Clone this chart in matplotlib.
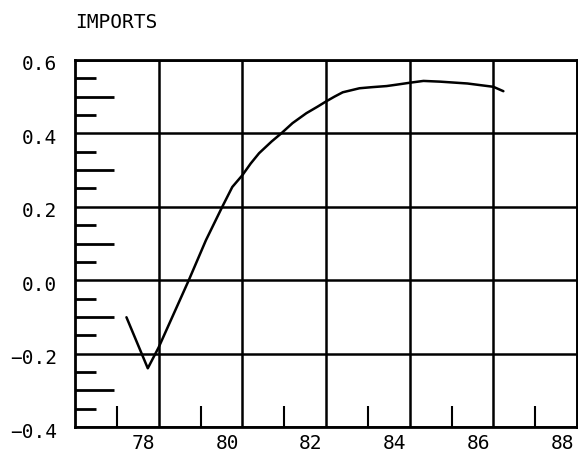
import matplotlib
matplotlib.use("Agg")
import matplotlib.pyplot as plt
from matplotlib.ticker import FixedLocator, MultipleLocator
from matplotlib.transforms import ScaledTranslation

# Data
years = [77.23, 77.74, 78.0, 78.72, 79.13, 79.52, 79.76, 80.0, 80.2, 80.4,
         80.7, 80.93, 81.2, 81.53, 81.8, 82.0, 82.2, 82.4, 82.8, 83.1, 83.45,
         83.7, 84.0, 84.33, 84.73, 85.38, 86.0, 86.24]
imports = [-0.101, -0.24, -0.183, 0.0, 0.109, 0.2, 0.254, 0.286, 0.318, 0.346,
           0.378, 0.4, 0.428, 0.455, 0.473, 0.487, 0.500, 0.512, 0.523, 0.526,
           0.529, 0.533, 0.538, 0.543, 0.541, 0.536, 0.527, 0.515]
x_ticks = [78, 80, 82, 84, 86, 88]
x_labels = ["78", "80", "82", "84", "86", "88"]
y_ticks = [-0.4, -0.2, 0.0, 0.2, 0.4, 0.6]
y_labels = ["\u22120.4", "\u22120.2", "0.0", "0.2", "0.4", "0.6"]
title = "IMPORTS"

W, H = 578, 454
fig = plt.figure(figsize=(W / 100, H / 100), dpi=100)
ax = fig.add_axes([75 / W, (H - 427) / H, (577 - 75) / W, (427 - 60) / H])

font = dict(family="DejaVu Sans Mono", size=14)

ax.plot(years, imports, color="black", lw=1.8, solid_capstyle="round",
        solid_joinstyle="round")

ax.set_xlim(76, 88)
ax.set_ylim(-0.4, 0.6)

ax.set_xticks(x_ticks)
ax.set_xticklabels(x_labels, **font)
ax.set_yticks(y_ticks)
ax.set_yticklabels(y_labels, **font)
ax.xaxis.set_minor_locator(MultipleLocator(2, offset=1))
ax.yaxis.set_minor_locator(FixedLocator([-0.3, -0.1, 0.1, 0.3, 0.5]))

ax.tick_params(axis="both", which="major", length=0, colors="black")
ax.tick_params(axis="x", which="major", pad=5)
ax.tick_params(axis="y", which="major", pad=13)
ax.tick_params(axis="x", which="minor", direction="in", length=15, width=1.5)
ax.tick_params(axis="y", which="minor", direction="in", length=28, width=2)

for lab in ax.get_xticklabels():
    lab.set_transform(lab.get_transform() + ScaledTranslation(-0.15, 0, fig.dpi_scale_trans))
for lab in ax.get_yticklabels():
    lab.set_transform(lab.get_transform() + ScaledTranslation(0, -0.03, fig.dpi_scale_trans))

# short y ticks at the quarter positions
sec = ax.secondary_yaxis("left")
sec.set_yticks([-0.35, -0.25, -0.15, -0.05, 0.05, 0.15, 0.25, 0.35, 0.45, 0.55])
sec.tick_params(direction="in", length=15, width=2, labelleft=False)
sec.spines["left"].set_visible(False)

ax.grid(True, which="major", color="black", lw=1.8)

for s in ax.spines.values():
    s.set_linewidth(2)
    s.set_color("black")

fig.text(75 / W, 1 - 22 / H, title, ha="left", va="center", **font)

fig.savefig("out.png", dpi=100)
